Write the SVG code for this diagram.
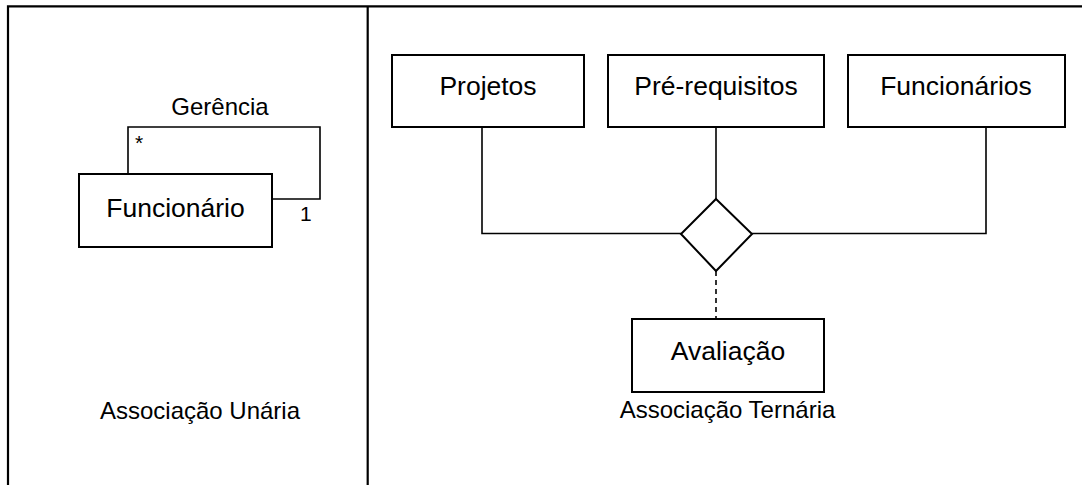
<svg xmlns="http://www.w3.org/2000/svg" width="1082" height="485" viewBox="0 0 1082 485">
<style>
.frame{fill:none;stroke:#000;stroke-width:2.2}
.box{fill:#fff;stroke:#000;stroke-width:2}
.ln{fill:none;stroke:#000;stroke-width:1.6}
.dash{fill:none;stroke:#000;stroke-width:1.6;stroke-dasharray:5 4}
.big{font-family:"Liberation Sans",Arial,sans-serif;font-size:26.5px;fill:#000;text-anchor:middle}
.sm{font-family:"Liberation Sans",Arial,sans-serif;font-size:24px;fill:#000;text-anchor:middle}
.mult{font-family:"Liberation Sans",Arial,sans-serif;font-size:21px;fill:#000}
</style>
<rect width="1082" height="485" fill="#fff"/>
<g id="frame">
<polyline class="frame" points="8,485 8,6.3 1082,6.3"/>
<line class="frame" x1="367.7" y1="6.3" x2="367.7" y2="485"/>
</g>
<g id="connectors">
<polyline class="ln" points="128,174 128,127 320,127 320,199 272,199"/>
<polyline class="ln" points="482,127 482,233.5 681,233.5"/>
<line class="ln" x1="716" y1="127" x2="716" y2="199"/>
<polyline class="ln" points="986,127 986,233.5 752,233.5"/>
<line class="dash" x1="716" y1="271" x2="716" y2="319"/>
</g>
<g id="node-funcionario">
<rect class="box" x="79" y="174" width="193" height="73"/>
<text class="big" x="175.5" y="217">Funcionário</text>
</g>
<g id="labels-unaria">
<text class="sm" x="220" y="115">Gerência</text>
<text class="mult" x="135" y="150">*</text>
<text class="mult" x="300" y="221">1</text>
<text class="sm" x="200" y="419">Associação Unária</text>
</g>
<g id="node-projetos">
<rect class="box" x="392" y="55" width="192" height="72"/>
<text class="big" x="488" y="95">Projetos</text>
</g>
<g id="node-prerequisitos">
<rect class="box" x="608" y="55" width="216" height="72"/>
<text class="big" x="716" y="95">Pré-requisitos</text>
</g>
<g id="node-funcionarios">
<rect class="box" x="848" y="55" width="217" height="72"/>
<text class="big" x="956" y="95">Funcionários</text>
</g>
<g id="node-diamond">
<polygon class="box" points="716,199 752,234 716,271 681,234"/>
</g>
<g id="node-avaliacao">
<rect class="box" x="632" y="319" width="192" height="73"/>
<text class="big" x="728" y="360">Avaliação</text>
</g>
<g id="label-ternaria">
<text class="sm" x="727.5" y="418">Associação Ternária</text>
</g>
</svg>
